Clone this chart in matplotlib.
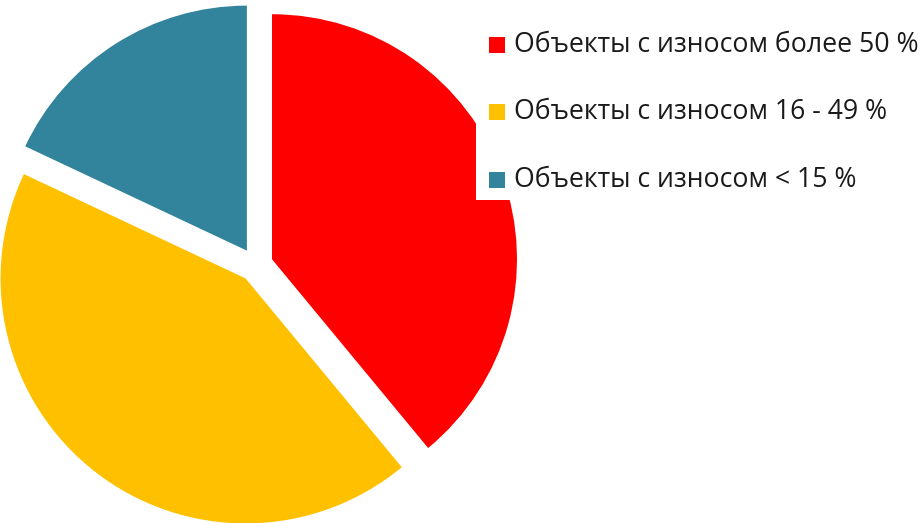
import matplotlib
matplotlib.use("Agg")
import matplotlib.pyplot as plt
from matplotlib.patches import Rectangle

categories = ["Объекты с износом более 50 %",
              "Объекты с износом 16 - 49 %",
              "Объекты с износом < 15 %"]
values = [39, 43, 18]
colors = ["#FF0000", "#FFC000", "#31849B"]

W, H = 922, 523
fig = plt.figure(figsize=(W / 100, H / 100), dpi=100)
ax = fig.add_axes([0, 0, 1, 1])

radius = 245
center = (256, H - 265)
explode = [17] * len(values)  # offset in data (pixel) units
ax.pie(values, colors=colors, startangle=90, counterclock=False,
       radius=radius, center=center, explode=explode,
       wedgeprops=dict(linewidth=0), frame=True)
ax.set_xlim(0, W)
ax.set_ylim(0, H)
ax.axis("off")

# white legend background covering part of the pie
ax.add_patch(Rectangle((476, H - 200), W - 476, 200, facecolor="white",
                       edgecolor="none", zorder=5))
row_y = [45, 112, 180]
for lab, col, yy in zip(categories, colors, row_y):
    ax.add_patch(Rectangle((489, H - yy - 8), 16, 16, facecolor=col,
                           edgecolor="none", zorder=6))
    ax.text(514, H - yy, lab, fontsize=19.2, family="Open Sans",
            va="center", ha="left", color="#1a1a1a", zorder=7)

fig.savefig("out.png", dpi=100)
